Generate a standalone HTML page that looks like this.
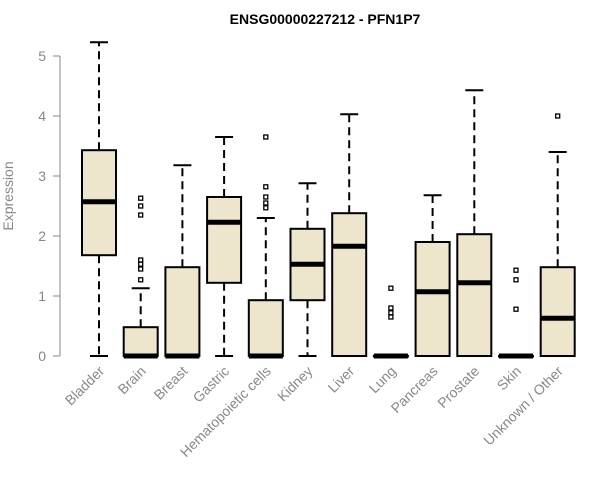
<!DOCTYPE html>
<html><head><meta charset="utf-8"><style>
html,body{margin:0;padding:0;background:#fff;}
svg{display:block;font-family:"Liberation Sans",Arial,sans-serif;}
</style></head><body>
<svg id="chart" width="600" height="500">
<text x="325" y="24" text-anchor="middle" font-size="14" font-weight="bold">ENSG00000227212 - PFN1P7</text>
<text transform="translate(13,196) rotate(-90)" text-anchor="middle" font-size="14" fill="#888">Expression</text>
<g id="yaxis"></g>
<g id="boxes"></g>
<g id="xlabels"></g>
</svg>
<script>
const categories=["Bladder","Brain","Breast","Gastric","Hematopoietic cells","Kidney","Liver","Lung","Pancreas","Prostate","Skin","Unknown / Other"];
const whiskerLow=[0,0,0,0,0,0,0,0,0,0,0,0];
const q1=[1.68,0,0,1.22,0,0.93,0,0,0,0,0,0];
const medians=[2.57,0,0,2.23,0,1.53,1.83,0,1.07,1.22,0,0.63];
const q3=[3.43,0.48,1.48,2.65,0.93,2.12,2.38,0,1.9,2.03,0,1.48];
const whiskerHigh=[5.23,1.13,3.18,3.65,2.3,2.88,4.03,0,2.68,4.43,0,3.4];
const outliers=[[],[2.63,2.5,2.35,1.6,1.53,1.45,1.27],[],[],[3.65,2.82,2.65,2.55,2.47],[],[],[1.13,0.8,0.72,0.65],[],[],[1.43,1.27,0.78],[4.0]];
const yTicks=[0,1,2,3,4,5];
const NS="http://www.w3.org/2000/svg";
const y=v=>356-v*60;
const x=i=>99+i*41.7;
function mk(tag,attrs,parent){const e=document.createElementNS(NS,tag);for(const k in attrs)e.setAttribute(k,attrs[k]);parent.appendChild(e);return e;}
const ya=document.getElementById('yaxis');
mk('line',{x1:60,x2:60,y1:y(0),y2:y(5),stroke:'#888'},ya);
yTicks.forEach(t=>{
 const l=mk('line',{x1:53,x2:60,y1:y(t),y2:y(t),stroke:'#888'},ya);
 
 
 const tx=mk('text',{x:46,y:y(t)+5,'text-anchor':'end','font-size':14,fill:'#888'},ya);
 tx.textContent=t;
 
 
});
const bg=document.getElementById('boxes');
const xl=document.getElementById('xlabels');
const hw=17;
categories.forEach((c,i)=>{
 const g=mk('g',{},bg);
 
 
 const cx=x(i);
 mk('line',{x1:cx,x2:cx,y1:y(q3[i]),y2:y(whiskerHigh[i]),stroke:'#000','stroke-width':2,'stroke-dasharray':'8,5'},g);
 mk('line',{x1:cx,x2:cx,y1:y(q1[i]),y2:y(whiskerLow[i]),stroke:'#000','stroke-width':2,'stroke-dasharray':'8,5'},g);
 mk('line',{x1:cx-9,x2:cx+9,y1:y(whiskerHigh[i]),y2:y(whiskerHigh[i]),stroke:'#000','stroke-width':2},g);
 mk('line',{x1:cx-9,x2:cx+9,y1:y(whiskerLow[i]),y2:y(whiskerLow[i]),stroke:'#000','stroke-width':2},g);
 mk('rect',{x:cx-hw,y:y(q3[i]),width:hw*2,height:Math.max(0.5,y(q1[i])-y(q3[i])),fill:'#ede6cc',stroke:'#000','stroke-width':2},g);
 mk('line',{x1:cx-hw,x2:cx+hw,y1:y(medians[i]),y2:y(medians[i]),stroke:'#000','stroke-width':5},g);
 outliers[i].forEach(o=>{
  const p=mk('rect',{x:cx-2,y:y(o)-2,width:4,height:4,fill:'none',stroke:'#000','stroke-width':1.3},g);
  
  
 });
 const t=mk('text',{transform:`translate(${cx+6},372) rotate(-45)`,'text-anchor':'end','font-size':14,fill:'#888'},xl);
 t.textContent=c;
 
 
});
</script>
</body></html>
